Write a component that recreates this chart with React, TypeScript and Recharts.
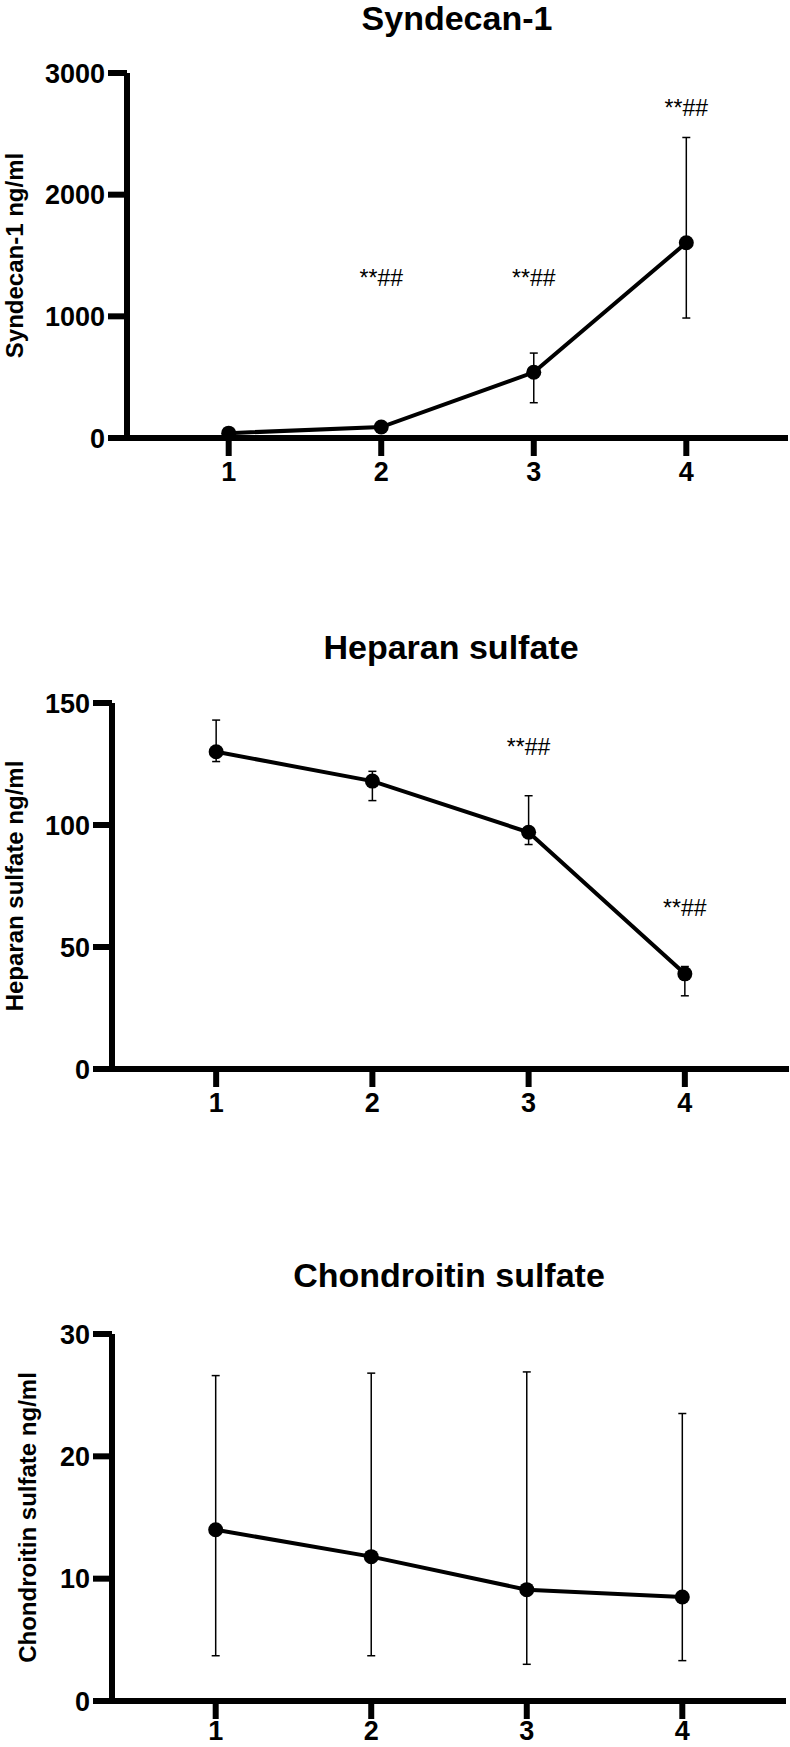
import React from "react";
import { LineChart, Line, XAxis, YAxis, ErrorBar, ReferenceDot } from "recharts";

const font = "'Liberation Sans', Arial, Helvetica, sans-serif";

const groups = [1, 2, 3, 4];
const xTicks = [1, 2, 3, 4];

// Syndecan-1
const syndecanMean = [40, 90, 540, 1605];
const syndecanLow = [40, 90, 290, 986];
const syndecanHigh = [40, 90, 698, 2470];
const syndecanTicks = [0, 1000, 2000, 3000];
const syndecanSigX = [2, 3, 4];
const syndecanSigY = [1315, 1315, 2710];

// Heparan sulfate
const heparanMean = [130, 118, 97, 39];
const heparanLow = [126, 110, 92, 30];
const heparanHigh = [143, 122, 112, 42];
const heparanTicks = [0, 50, 100, 150];
const heparanSigX = [3, 4];
const heparanSigY = [132, 66];

// Chondroitin sulfate
const chondMean = [14, 11.8, 9.1, 8.5];
const chondLow = [3.7, 3.7, 3.0, 3.3];
const chondHigh = [26.6, 26.8, 26.9, 23.5];
const chondTicks = [0, 10, 20, 30];

function buildRows(mean: number[], low: number[], high: number[]) {
  return groups.map((g, i) => ({
    x: g,
    y: mean[i],
    err: [mean[i] - low[i], high[i] - mean[i]],
  }));
}

type PanelProps = {
  top: number;
  height: number;
  plotTop: number;
  plotBottom: number;
  plotLeft: number;
  plotRight: number;
  xTickGap: number;
  title: string;
  titleX: number;
  titleY: number;
  yLabel: string;
  yLabelX: number;
  yMax: number;
  yTicks: number[];
  rows: { x: number; y: number; err: number[] }[];
  sigX?: number[];
  sigY?: number[];
};

function Panel(p: PanelProps) {
  const yMid = (p.plotTop + p.plotBottom) / 2;
  return (
    <div style={{ position: "absolute", left: 0, top: p.top, width: 790, height: p.height }}>
      <LineChart
        width={790}
        height={p.height}
        data={p.rows}
        margin={{ top: p.plotTop, right: 790 - p.plotRight, bottom: 0, left: 0 }}
      >
        <XAxis
          dataKey="x"
          type="number"
          domain={[1 / 3, 14 / 3]}
          allowDataOverflow
          ticks={xTicks}
          height={p.height - p.plotBottom}
          axisLine={{ stroke: "#000", strokeWidth: 6 }}
          tickLine={{ stroke: "#000", strokeWidth: 6 }}
          tickSize={18}
          tickMargin={p.xTickGap}
          tick={{ fill: "#000", fontSize: 27, fontWeight: 700, fontFamily: font }}
        />
        <YAxis
          type="number"
          domain={[0, p.yMax]}
          ticks={p.yTicks}
          width={p.plotLeft}
          axisLine={{ stroke: "#000", strokeWidth: 6 }}
          tickLine={{ stroke: "#000", strokeWidth: 6 }}
          tickSize={19}
          tickMargin={3}
          tick={{ fill: "#000", fontSize: 27, fontWeight: 700, fontFamily: font }}
        />
        <Line
          dataKey="y"
          stroke="#000"
          strokeWidth={4}
          dot={{ r: 7.5, fill: "#000", stroke: "#000", strokeWidth: 0 }}
          activeDot={false}
          isAnimationActive={false}
        >
          <ErrorBar dataKey="err" direction="y" width={4} strokeWidth={1.5} stroke="#000" />
        </Line>
        {(p.sigX || []).map((sx, i) => (
          <ReferenceDot
            key={i}
            x={sx}
            y={p.sigY![i]}
            r={0}
            fill="none"
            stroke="none"
            ifOverflow="visible"
            label={{ value: "**##", position: "center", fontSize: 23, fill: "#000", fontFamily: font }}
          />
        ))}
      </LineChart>
      <svg
        width={790}
        height={p.height}
        style={{ position: "absolute", left: 0, top: 0, pointerEvents: "none" }}
      >
        <text
          x={p.titleX}
          y={p.titleY}
          textAnchor="middle"
          fontSize={34}
          fontWeight={700}
          fontFamily={font}
          fill="#000"
        >
          {p.title}
        </text>
        <text
          x={p.yLabelX}
          y={yMid}
          transform={`rotate(-90 ${p.yLabelX} ${yMid})`}
          textAnchor="middle"
          fontSize={24}
          fontWeight={700}
          fontFamily={font}
          fill="#000"
        >
          {p.yLabel}
        </text>
      </svg>
    </div>
  );
}

export default function App() {
  return (
    <div style={{ position: "absolute", left: 0, top: 0, width: 790, height: 1747, background: "#fff" }}>
      <Panel
        top={0}
        height={520}
        plotTop={73}
        plotBottom={438}
        plotLeft={127}
        plotRight={788}
        xTickGap={6}
        title="Syndecan-1"
        titleX={457}
        titleY={30}
        yLabel="Syndecan-1 ng/ml"
        yLabelX={23}
        yMax={3000}
        yTicks={syndecanTicks}
        rows={buildRows(syndecanMean, syndecanLow, syndecanHigh)}
        sigX={syndecanSigX}
        sigY={syndecanSigY}
      />
      <Panel
        top={580}
        height={560}
        plotTop={123}
        plotBottom={489}
        plotLeft={112}
        plotRight={789}
        xTickGap={6}
        title="Heparan sulfate"
        titleX={451}
        titleY={79}
        yLabel="Heparan sulfate ng/ml"
        yLabelX={23}
        yMax={150}
        yTicks={heparanTicks}
        rows={buildRows(heparanMean, heparanLow, heparanHigh)}
        sigX={heparanSigX}
        sigY={heparanSigY}
      />
      <Panel
        top={1180}
        height={567}
        plotTop={154}
        plotBottom={521}
        plotLeft={112}
        plotRight={786}
        xTickGap={2}
        title="Chondroitin sulfate"
        titleX={449}
        titleY={107}
        yLabel="Chondroitin sulfate ng/ml"
        yLabelX={36}
        yMax={30}
        yTicks={chondTicks}
        rows={buildRows(chondMean, chondLow, chondHigh)}
      />
    </div>
  );
}
